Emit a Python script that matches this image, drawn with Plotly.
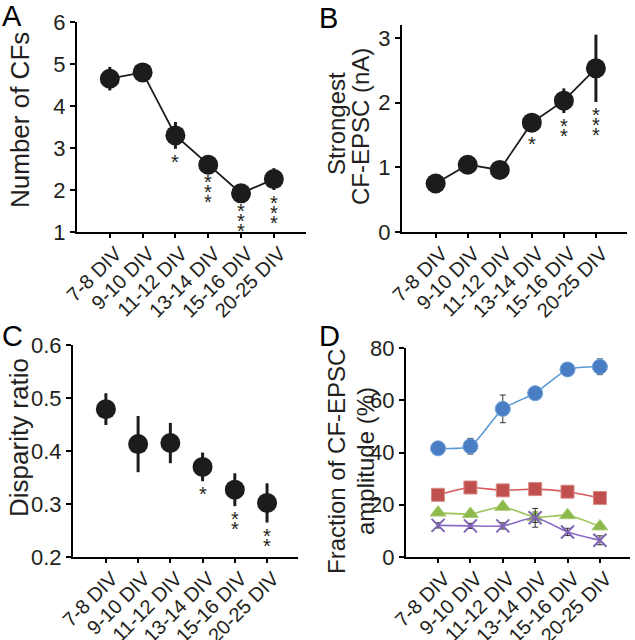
import plotly.graph_objects as go

# ---------------- data ----------------
categories = ["7-8 DIV", "9-10 DIV", "11-12 DIV", "13-14 DIV", "15-16 DIV", "20-25 DIV"]

cf_number = [4.65, 4.80, 3.30, 2.60, 1.92, 2.26]
cf_number_err = [0.28, 0.18, 0.32, 0.10, 0.10, 0.26]
cf_number_stars = [0, 0, 1, 3, 3, 3]

strongest = [0.75, 1.04, 0.96, 1.69, 2.03, 2.53]
strongest_err = [0.07, 0.12, 0.08, 0.13, 0.19, 0.52]
strongest_stars = [0, 0, 0, 1, 2, 3]

disparity = [0.479, 0.413, 0.415, 0.370, 0.327, 0.302]
disparity_err = [0.030, 0.053, 0.038, 0.027, 0.031, 0.037]
disparity_stars = [0, 0, 0, 1, 2, 2]

frac_1st = [41.6, 42.4, 56.7, 62.7, 71.8, 72.8]
frac_1st_err = [1.0, 3.0, 5.3, 0.8, 1.5, 3.0]
frac_2nd = [23.8, 26.6, 25.5, 26.0, 25.0, 22.6]
frac_2nd_err = [1.0, 1.0, 1.0, 1.0, 1.0, 1.0]
frac_3rd = [17.0, 16.5, 19.2, 15.2, 16.0, 11.7]
frac_3rd_err = [1.0, 1.0, 1.0, 2.0, 1.0, 1.0]
frac_4th = [12.1, 11.9, 11.9, 15.0, 9.6, 6.4]
frac_4th_err = [1.0, 1.0, 1.2, 3.6, 1.4, 1.7]

# ---------------- figure ----------------
W, H = 635, 640
FONT = "Liberation Sans, Arial, sans-serif"
TXT = "#231f20"
DARK = "#1c1c1c"
xs = list(range(len(categories)))


def px_x(a, b):
    return [a / W, b / W]


def px_y(top, bottom):
    return [1 - bottom / H, 1 - top / H]


fig = go.Figure()

panels = {
    "A": dict(x=px_x(77, 306), y=px_y(22, 232), xr=[-1.0, 5.98], yr=[1, 6], dtick=1, fmt=None),
    "B": dict(x=px_x(402, 627), y=px_y(25, 232), xr=[-1.05, 5.97], yr=[0, 3.2], dtick=1, fmt=None),
    "C": dict(x=px_x(73, 298), y=px_y(345, 557), xr=[-1.02, 5.96], yr=[0.2, 0.6], dtick=0.1, fmt=".1f"),
    "D": dict(x=px_x(406, 630), y=px_y(348, 557), xr=[-0.99, 5.93], yr=[0, 80], dtick=20, fmt=None),
}
axis_ids = {"A": ("x", "y"), "B": ("x2", "y2"), "C": ("x3", "y3"), "D": ("x4", "y4")}

layout_axes = {}
for key, p in panels.items():
    xa, ya = axis_ids[key]
    xname = "xaxis" + xa[1:]
    yname = "yaxis" + ya[1:]
    layout_axes[xname] = dict(
        domain=p["x"], range=p["xr"], anchor=ya, automargin=False,
        tickmode="array", tickvals=xs, ticktext=categories, tickangle=-45,
        ticks="outside", ticklen=4, tickwidth=1.5, tickcolor="black",
        ticklabelshift=6, ticklabelstandoff=-4,
        showline=True, linewidth=2, linecolor="black",
        showgrid=False, zeroline=False,
        tickfont=dict(family=FONT, size=20, color=TXT),
    )
    ya_cfg = dict(
        domain=p["y"], range=p["yr"], anchor=xa, automargin=False,
        dtick=p["dtick"], tick0=p["yr"][0],
        ticks="outside", ticklen=5, tickwidth=1.5, tickcolor="black",
        showline=True, linewidth=2, linecolor="black",
        showgrid=False, zeroline=False,
        tickfont=dict(family=FONT, size=22, color=TXT),
    )
    if p["fmt"]:
        ya_cfg["tickformat"] = p["fmt"]
    layout_axes[yname] = ya_cfg


def black_series(vals, errs, xa, ya, with_line=True):
    fig.add_trace(go.Scatter(
        x=xs, y=vals, xaxis=xa, yaxis=ya,
        mode="lines+markers" if with_line else "markers",
        line=dict(color=DARK, width=1.8),
        marker=dict(size=20, color=DARK),
        error_y=dict(type="data", array=errs, visible=True, thickness=3, width=0, color=DARK),
        showlegend=False, hoverinfo="skip",
    ))


black_series(cf_number, cf_number_err, "x", "y")
black_series(strongest, strongest_err, "x2", "y2")
black_series(disparity, disparity_err, "x3", "y3", with_line=False)

d_series = [
    (frac_1st, frac_1st_err, "circle", 15, "#4a7ec4", "#6f9fd8", "#5b9bd5"),
    (frac_2nd, frac_2nd_err, "square", 13, "#c0504d", "#d98a88", "#d9595a"),
    (frac_3rd, frac_3rd_err, "triangle-up", 14, "#8db84a", "#a9cc74", "#9bc35a"),
    (frac_4th, frac_4th_err, "x-thin", 13, "#7e62b5", "#7e62b5", "#8a6cc4"),
]
for vals, errs, sym, size, mcol, mline, lcol in d_series:
    fig.add_trace(go.Scatter(
        x=xs, y=vals, xaxis="x4", yaxis="y4", mode="lines+markers",
        line=dict(color=lcol, width=1.6, shape="spline", smoothing=0.6),
        marker=dict(symbol=sym, size=size, color=mcol,
                    line=dict(color=mline, width=2 if sym == "x-thin" else 1)),
        error_y=dict(type="data", array=errs, visible=True, thickness=1, width=3, color="#333333"),
        showlegend=False, hoverinfo="skip",
    ))

annotations = []

STAR_SIZE = 20
for vals, errs, stars, xa, ya in [
    (cf_number, cf_number_err, cf_number_stars, "x", "y"),
    (strongest, strongest_err, strongest_stars, "x2", "y2"),
    (disparity, disparity_err, disparity_stars, "x3", "y3"),
]:
    for i, (v, e, n) in enumerate(zip(vals, errs, stars)):
        for k in range(n):
            annotations.append(dict(
                x=i, y=v - e, xref=xa, yref=ya, text="*", showarrow=False,
                xanchor="center", yanchor="middle",
                yshift=-(8 + 10 * k) - 5,
                font=dict(family=FONT, size=STAR_SIZE, color=TXT),
            ))

for letter, lx, ly in [("A", 0, 0), ("B", 317, 2), ("C", 0, 320), ("D", 317, 320)]:
    annotations.append(dict(
        x=lx / W, y=1 - ly / H, xref="paper", yref="paper", text=letter,
        showarrow=False, xanchor="left", yanchor="top", yshift=2,
        font=dict(family=FONT, size=29, color="black"),
    ))

for text, cx, cy, fs in [
    ("Number of CFs", 20, 120, 26),
    ("Strongest", 337, 124, 24),
    ("CF-EPSC (nA)", 360, 127, 24),
    ("Disparity ratio", 19, 438, 26),
    ("Fraction of CF-EPSC", 336, 462, 24),
    ("amplitude (%)", 365, 461, 24),
]:
    annotations.append(dict(
        x=cx / W, y=1 - cy / H, xref="paper", yref="paper", text=text,
        showarrow=False, textangle=-90, xanchor="center", yanchor="middle",
        font=dict(family=FONT, size=fs, color=TXT),
    ))

fig.update_layout(
    width=W, height=H,
    margin=dict(l=0, r=0, t=0, b=0, autoexpand=False),
    paper_bgcolor="white", plot_bgcolor="white",
    showlegend=False,
    annotations=annotations,
    **layout_axes,
)

fig.write_html(
    "out.html",
    config={"displayModeBar": False},
    post_script="document.body.style.margin='0';document.body.style.overflow='hidden';",
)
